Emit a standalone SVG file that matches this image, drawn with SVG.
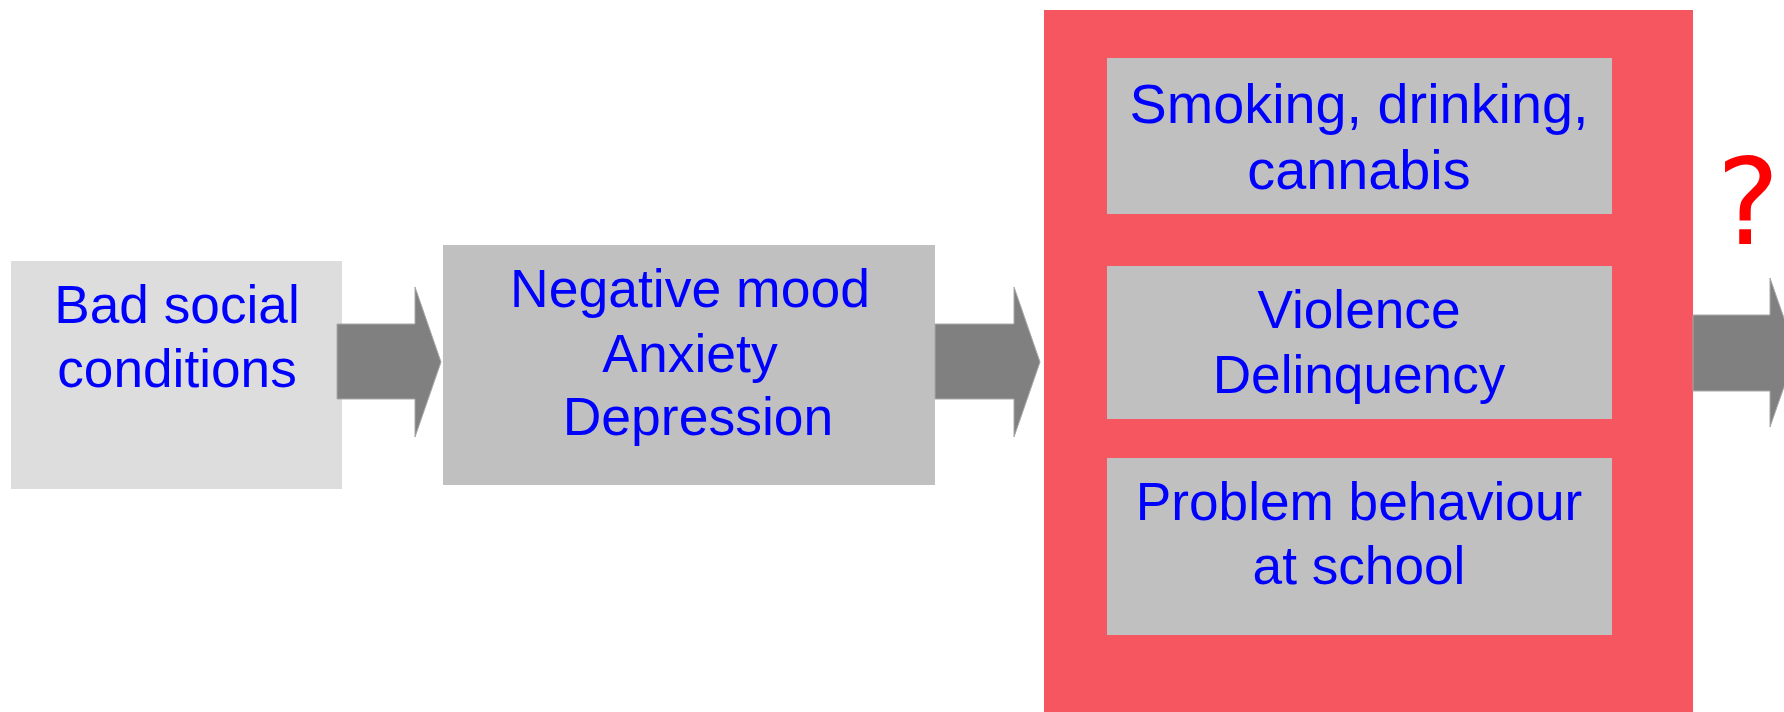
<svg xmlns="http://www.w3.org/2000/svg" width="1784" height="712" viewBox="0 0 1784 712">
<style>
.t{font-family:"Liberation Sans",Arial,sans-serif;font-size:53.2px;fill:#0000ff;text-anchor:middle}
.big{font-size:55.8px}
.mid{font-size:53.5px}
.light{fill:#dddddd}
.grey{fill:#c0c0c0}
.arrow{fill:#808080;stroke:#a8a8a8;stroke-width:1}
</style>
<rect width="1784" height="712" fill="#ffffff"/>
<g id="node-bad-social">
<rect class="light" x="11" y="261" width="331" height="228"/>
<text class="t" x="177" y="323">Bad social</text>
<text class="t" x="177" y="387">conditions</text>
</g>
<g id="node-negative-mood">
<rect class="grey" x="443" y="245" width="492" height="240"/>
<text class="t mid" x="690" y="307">Negative mood</text>
<text class="t mid" x="690" y="372">Anxiety</text>
<text class="t mid" x="698" y="435">Depression</text>
</g>
<g id="node-behaviours">
<rect x="1044" y="10" width="649" height="710" fill="#f55660"/>
<g id="node-smoking">
<rect class="grey" x="1107" y="58" width="505" height="156"/>
<text class="t big" x="1359" y="123">Smoking, drinking,</text>
<text class="t big" x="1359" y="189">cannabis</text>
</g>
<g id="node-violence">
<rect class="grey" x="1107" y="266" width="505" height="153"/>
<text class="t" x="1359" y="328">Violence</text>
<text class="t" x="1359" y="393">Delinquency</text>
</g>
<g id="node-problem">
<rect class="grey" x="1107" y="458" width="505" height="177"/>
<text class="t" x="1359" y="520">Problem behaviour</text>
<text class="t" x="1359" y="584">at school</text>
</g>
</g>
<g id="node-question">
<text x="1748" y="244" font-family="DejaVu Sans,sans-serif" font-size="119" fill="#ff0000" text-anchor="middle">?</text>
</g>
<g id="connectors">
<path class="arrow" d="M337,324 H415 V287 L441,362 L415,437 V399 H337 Z"/>
<path class="arrow" d="M935,324 H1014 V287 L1040,362 L1014,437 V399 H935 Z"/>
<path class="arrow" d="M1693,315 H1770 V278 L1796,352.5 L1770,427 V391 H1693 Z"/>
</g>
</svg>
